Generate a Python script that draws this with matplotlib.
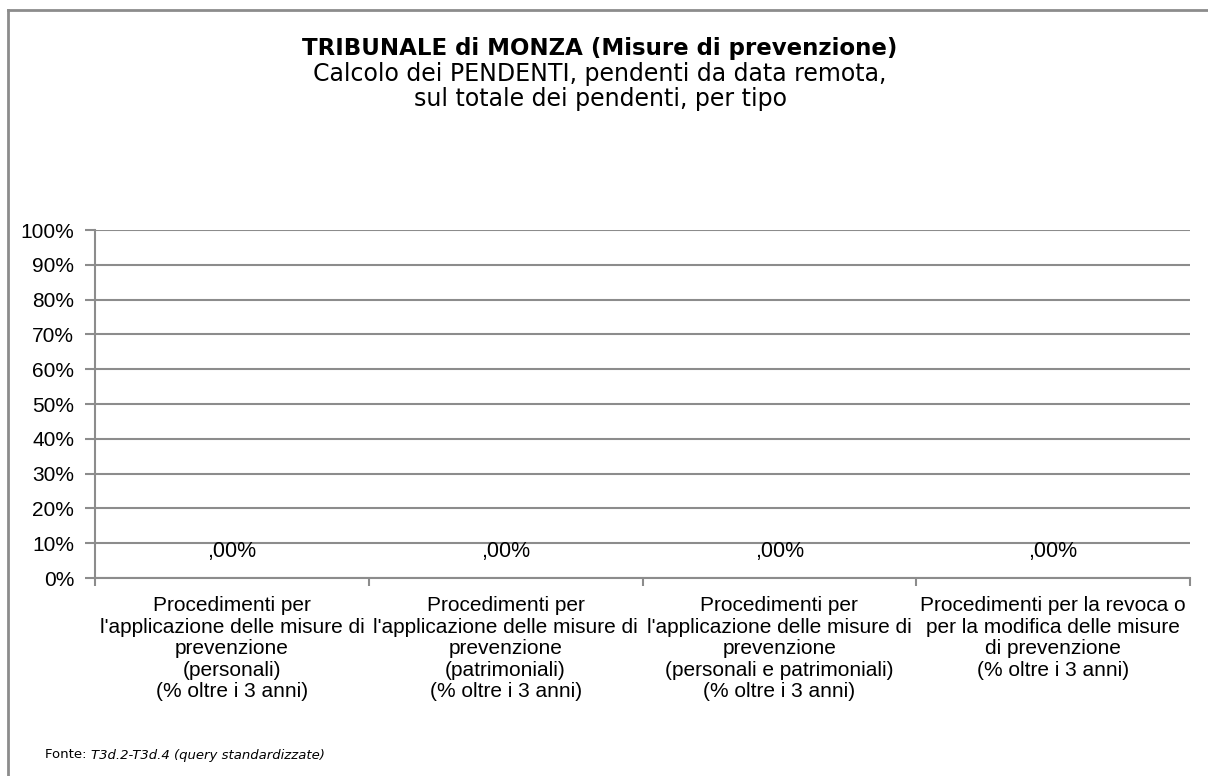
import matplotlib.pyplot as plt
from matplotlib.lines import Line2D
from matplotlib.ticker import MultipleLocator, FuncFormatter

# dati
categorie = [
    "Procedimenti per\nl'applicazione delle misure di\nprevenzione\n(personali)\n(% oltre i 3 anni)",
    "Procedimenti per\nl'applicazione delle misure di\nprevenzione\n(patrimoniali)\n(% oltre i 3 anni)",
    "Procedimenti per\nl'applicazione delle misure di\nprevenzione\n(personali e patrimoniali)\n(% oltre i 3 anni)",
    "Procedimenti per la revoca o\nper la modifica delle misure\ndi prevenzione\n(% oltre i 3 anni)",
]
valori = [0.0, 0.0, 0.0, 0.0]
etichette = [",00%", ",00%", ",00%", ",00%"]

titolo = "TRIBUNALE di MONZA (Misure di prevenzione)"
sottotitolo = ["Calcolo dei PENDENTI, pendenti da data remota,",
               "sul totale dei pendenti, per tipo"]

W, H = 1208, 776
fig = plt.figure(figsize=(W / 100, H / 100), dpi=100)
ax = fig.add_axes([95 / W, 1 - 578 / H, (1190 - 95) / W, (578 - 230) / H])

grigio = "#8c8c8c"
x = list(range(len(categorie)))
ax.bar(x, valori, width=0.6, color="#4f81bd")
for xi, v, lab in zip(x, valori, etichette):
    ax.annotate(lab, (xi, v), xytext=(0, 19), textcoords="offset points",
                ha="center", va="center", fontsize=15.5, family="Liberation Sans")

ax.set_xlim(-0.5, len(categorie) - 0.5)
ax.set_ylim(0, 1)
ax.yaxis.set_major_locator(MultipleLocator(0.1))
ax.yaxis.set_major_formatter(FuncFormatter(lambda v, p: f"{v * 100:.0f}%"))
ax.grid(axis="y", color=grigio, linewidth=1.5)
ax.set_axisbelow(True)

ax.set_xticks([i - 0.5 for i in range(len(categorie) + 1)], minor=False)
ax.set_xticklabels([])
ax.set_xticks(x, minor=True)
ax.set_xticklabels(categorie, minor=True, fontsize=15, family="Liberation Sans",
                   linespacing=1.17)
ax.tick_params(axis="x", which="major", length=6, color=grigio, width=1.5)
ax.tick_params(axis="x", which="minor", length=0, pad=13)
ax.tick_params(axis="y", length=7, color=grigio, width=1.5, labelsize=15, pad=8)
for t in ax.get_yticklabels():
    t.set_family("Liberation Sans")

for s in ["top", "right"]:
    ax.spines[s].set_visible(False)
for s in ["left", "bottom"]:
    ax.spines[s].set_color(grigio)
    ax.spines[s].set_linewidth(1.5)

# titolo
fig.text(600 / W, 1 - 48 / H, titolo, ha="center", va="center", fontsize=16.5,
         fontweight="bold", family="DejaVu Sans")
for i, riga in enumerate(sottotitolo):
    fig.text(600 / W, 1 - (74 + 25 * i) / H, riga, ha="center", va="center",
             fontsize=17, family="DejaVu Sans")

# fonte
t1 = fig.text(45 / W, 1 - 755 / H, "Fonte: ", ha="left", va="center", fontsize=9.5,
              family="DejaVu Sans")
r = fig.canvas.get_renderer()
bb = t1.get_window_extent(r)
fig.text(bb.x1 / W, 1 - 755 / H, "T3d.2-T3d.4 (query standardizzate)", ha="left",
         va="center", fontsize=9.5, style="italic", family="DejaVu Sans")

# cornice
fig.add_artist(Line2D([8 / W, 1], [1 - 10 / H, 1 - 10 / H], color=grigio, linewidth=2))
fig.add_artist(Line2D([8 / W, 8 / W], [0, 1 - 10 / H], color=grigio, linewidth=2))

fig.savefig("out.png", dpi=100)
